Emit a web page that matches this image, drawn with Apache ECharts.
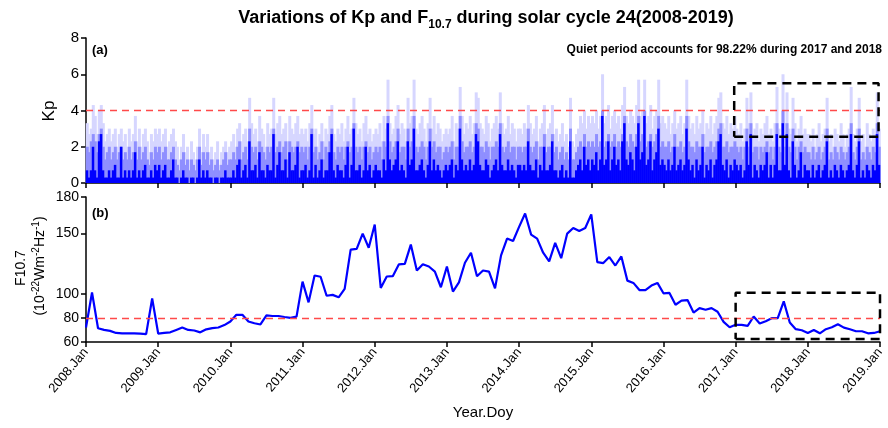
<!DOCTYPE html>
<html>
<head>
<meta charset="utf-8">
<script src="https://cdn.jsdelivr.net/npm/echarts@6/dist/echarts.min.js"></script>
<style>
html, body { margin: 0; padding: 0; background: #fff; }
#main { width: 888px; height: 428px; }
</style>
</head>
<body>
<div id="main"></div>
<script>
// x tick labels, one per year boundary
var xTickLabels = ['2008.Jan', '2009.Jan', '2010.Jan', '2011.Jan', '2012.Jan', '2013.Jan',
	'2014.Jan', '2015.Jan', '2016.Jan', '2017.Jan', '2018.Jan', '2019.Jan'];
var kpTicks = [0, 2, 4, 6, 8];
var f107Ticks = [60, 80, 100, 150, 180];

// Kp, 36 bins per year (about 10 days)
// kpPeak: highest value in the bin, kpUpper: upper part, kpBase: bulk of the values
var binsPerYear = 36;
var kpPeak = [
	3.3, 2.7, 3.0, 4.3, 3.7, 2.7, 4.0, 4.3, 3.3, 2.3, 2.7, 3.0, 2.3, 2.7, 3.0, 2.0, 2.7, 3.0, 2.3, 2.7, 2.0, 3.0, 2.3, 2.7, 3.7, 2.3, 3.0, 2.0, 2.7, 3.0, 2.3, 1.7, 2.7, 2.3, 3.0, 2.7, // 2008
	3.0, 2.3, 2.7, 3.0, 2.0, 2.3, 2.7, 3.0, 2.3, 2.0, 1.3, 2.0, 2.7, 1.7, 2.0, 1.3, 2.3, 1.7, 1.3, 2.0, 3.0, 1.7, 2.7, 2.0, 2.7, 1.7, 2.0, 1.3, 1.7, 2.3, 1.0, 1.7, 2.0, 2.3, 1.7, 2.0, // 2009
	2.3, 2.7, 2.0, 3.0, 3.3, 2.3, 2.7, 3.0, 2.3, 4.7, 3.3, 2.7, 3.0, 2.3, 3.7, 3.0, 2.7, 2.0, 3.3, 2.7, 3.0, 4.7, 2.7, 3.3, 3.7, 2.7, 3.0, 3.3, 2.3, 3.7, 3.0, 2.7, 3.3, 3.7, 2.7, 3.0, // 2010
	2.7, 3.0, 2.3, 3.3, 4.3, 2.7, 3.0, 2.0, 2.7, 3.3, 2.3, 3.0, 2.7, 3.7, 4.3, 2.7, 2.3, 3.0, 2.7, 3.3, 2.3, 3.0, 3.7, 2.7, 3.0, 4.7, 3.3, 2.7, 3.0, 2.3, 3.3, 3.7, 2.7, 3.0, 2.3, 2.7, // 2011
	3.0, 2.7, 3.3, 2.3, 3.7, 3.0, 5.7, 3.3, 2.7, 3.0, 3.7, 4.3, 2.7, 3.3, 3.0, 2.3, 4.7, 3.3, 3.7, 5.7, 3.0, 2.7, 3.3, 3.7, 3.0, 2.3, 3.3, 4.7, 3.0, 3.7, 2.7, 3.3, 3.0, 2.3, 2.7, 3.0, // 2012
	2.7, 3.0, 3.7, 2.3, 3.3, 3.0, 5.3, 3.7, 2.7, 3.3, 3.0, 3.7, 2.7, 3.3, 5.0, 4.7, 3.3, 3.0, 2.7, 3.7, 3.3, 2.3, 3.0, 3.3, 3.7, 3.0, 5.0, 3.3, 2.7, 3.0, 3.7, 2.7, 3.3, 3.0, 2.3, 3.0, // 2013
	3.0, 2.7, 3.3, 3.0, 4.3, 3.3, 2.7, 3.0, 3.7, 2.3, 3.0, 3.3, 4.3, 2.7, 3.0, 3.3, 4.3, 2.7, 3.0, 2.3, 2.7, 3.3, 2.3, 2.7, 2.0, 4.7, 2.3, 2.0, 2.7, 3.0, 3.7, 3.3, 4.0, 3.0, 3.7, 3.3, // 2014
	3.7, 3.3, 4.0, 3.0, 3.7, 6.0, 3.3, 3.7, 4.3, 3.0, 3.7, 4.0, 3.3, 3.7, 3.0, 4.3, 5.3, 3.7, 3.3, 4.0, 3.7, 3.3, 4.3, 5.7, 3.7, 4.0, 5.7, 3.3, 3.7, 4.3, 3.0, 3.7, 4.0, 5.7, 3.3, 3.7, // 2015
	3.3, 3.0, 3.7, 2.7, 3.3, 4.0, 3.0, 3.3, 3.7, 2.7, 3.3, 5.7, 3.7, 3.0, 3.3, 2.7, 3.7, 3.0, 3.3, 4.0, 2.7, 3.3, 3.0, 3.7, 2.7, 3.3, 3.7, 4.7, 5.0, 3.3, 3.0, 3.7, 2.7, 3.3, 3.0, 3.7, // 2016
	3.0, 2.7, 3.3, 2.3, 3.0, 4.7, 3.3, 5.0, 2.7, 3.0, 3.3, 2.3, 3.0, 2.7, 3.3, 3.7, 2.7, 3.0, 2.3, 3.3, 5.3, 3.0, 2.7, 6.0, 3.3, 5.0, 3.0, 2.7, 4.7, 3.3, 2.3, 3.0, 3.7, 2.7, 3.0, 2.7, // 2017
	2.7, 2.3, 3.0, 2.0, 2.7, 3.3, 2.3, 2.7, 3.0, 4.7, 2.3, 2.7, 2.0, 3.0, 2.7, 2.3, 3.3, 2.7, 2.0, 2.7, 3.0, 5.3, 2.7, 2.3, 3.0, 4.7, 2.3, 2.7, 2.0, 3.3, 2.7, 2.3, 3.0, 2.7, 5.0, 3.0  // 2018
];
var kpUpper = [
	2.0, 1.7, 2.3, 2.7, 2.3, 1.7, 2.7, 3.0, 2.0, 1.3, 1.7, 2.0, 1.3, 1.7, 2.0, 1.3, 1.7, 2.0, 1.3, 1.7, 1.3, 2.0, 1.3, 1.7, 2.3, 1.3, 2.0, 1.3, 1.7, 2.0, 1.3, 1.0, 1.7, 1.3, 2.0, 1.7, // 2008
	2.0, 1.3, 1.7, 2.0, 1.3, 1.3, 1.7, 2.0, 1.3, 1.0, 0.7, 1.3, 1.7, 1.0, 1.3, 0.7, 1.3, 1.0, 0.7, 1.3, 2.0, 1.0, 1.7, 1.3, 1.7, 1.0, 1.3, 0.7, 1.0, 1.3, 0.7, 1.0, 1.3, 1.7, 1.0, 1.3, // 2009
	1.3, 1.7, 1.3, 2.0, 2.3, 1.3, 1.7, 2.0, 1.3, 3.0, 2.0, 1.7, 2.0, 1.3, 2.3, 2.0, 1.7, 1.3, 2.0, 1.7, 2.0, 3.0, 1.7, 2.0, 2.3, 1.7, 2.0, 2.3, 1.3, 2.3, 2.0, 1.7, 2.0, 2.3, 1.7, 2.0, // 2010
	1.7, 2.0, 1.3, 2.0, 3.0, 1.7, 2.0, 1.3, 1.7, 2.3, 1.3, 2.0, 1.7, 2.3, 3.0, 1.7, 1.3, 2.0, 1.7, 2.0, 1.3, 2.0, 2.3, 1.7, 2.0, 3.3, 2.0, 1.7, 2.0, 1.3, 2.0, 2.3, 1.7, 2.0, 1.3, 1.7, // 2011
	2.0, 1.7, 2.0, 1.3, 2.3, 2.0, 3.7, 2.3, 1.7, 2.0, 2.3, 3.0, 1.7, 2.0, 2.0, 1.3, 3.0, 2.0, 2.3, 3.7, 2.0, 1.7, 2.0, 2.3, 2.0, 1.3, 2.0, 3.0, 2.0, 2.3, 1.7, 2.0, 2.0, 1.3, 1.7, 2.0, // 2012
	1.7, 2.0, 2.3, 1.3, 2.0, 2.0, 3.7, 2.3, 1.7, 2.0, 2.0, 2.3, 1.7, 2.0, 3.3, 3.0, 2.0, 2.0, 1.7, 2.3, 2.0, 1.3, 2.0, 2.0, 2.3, 2.0, 3.3, 2.0, 1.7, 2.0, 2.3, 1.7, 2.0, 2.0, 1.3, 2.0, // 2013
	2.0, 1.7, 2.0, 2.0, 3.0, 2.0, 1.7, 2.0, 2.3, 1.3, 2.0, 2.0, 2.7, 1.7, 2.0, 2.0, 2.7, 1.7, 2.0, 1.3, 1.7, 2.0, 1.3, 1.7, 1.3, 3.0, 1.3, 1.3, 1.7, 2.0, 2.3, 2.0, 2.7, 2.0, 2.3, 2.0, // 2014
	2.3, 2.0, 2.7, 2.0, 2.3, 4.0, 2.0, 2.3, 2.7, 2.0, 2.3, 2.7, 2.0, 2.3, 2.0, 2.7, 3.7, 2.3, 2.0, 2.7, 2.3, 2.0, 2.7, 3.7, 2.3, 2.7, 4.0, 2.0, 2.3, 2.7, 2.0, 2.3, 2.7, 3.7, 2.0, 2.3, // 2015
	2.0, 2.0, 2.3, 1.7, 2.0, 2.7, 2.0, 2.0, 2.3, 1.7, 2.0, 3.7, 2.3, 2.0, 2.0, 1.7, 2.3, 2.0, 2.0, 2.7, 1.7, 2.0, 2.0, 2.3, 1.7, 2.0, 2.3, 3.0, 3.3, 2.0, 2.0, 2.3, 1.7, 2.0, 2.0, 2.3, // 2016
	2.0, 1.7, 2.0, 1.3, 2.0, 3.0, 2.0, 3.3, 1.7, 2.0, 2.0, 1.3, 2.0, 1.7, 2.0, 2.3, 1.7, 2.0, 1.3, 2.0, 3.3, 2.0, 1.7, 4.0, 2.0, 3.3, 2.0, 1.7, 3.0, 2.0, 1.3, 2.0, 2.3, 1.7, 2.0, 1.7, // 2017
	1.7, 1.3, 2.0, 1.3, 1.7, 2.0, 1.3, 1.7, 2.0, 3.0, 1.3, 1.7, 1.3, 2.0, 1.7, 1.3, 2.0, 1.7, 1.3, 1.7, 2.0, 3.3, 1.7, 1.3, 2.0, 3.0, 1.3, 1.7, 1.3, 2.0, 1.7, 1.3, 2.0, 1.7, 3.3, 2.0  // 2018
];
var kpBase = [
	0.7, 0.3, 0.7, 2.0, 0.7, 0.3, 2.3, 2.7, 0.7, 0.3, 0.3, 0.7, 0.3, 0.7, 1.0, 0.3, 0.3, 2.0, 0.3, 0.7, 0.3, 0.7, 0.3, 0.7, 1.7, 0.3, 0.7, 0.3, 0.7, 1.0, 0.3, 0.3, 0.7, 0.3, 1.0, 0.7, // 2008
	1.0, 0.3, 0.7, 1.0, 0.3, 0.3, 0.7, 1.3, 0.3, 0.3, 0.0, 0.3, 0.7, 0.3, 0.3, 0.0, 0.3, 0.3, 0.0, 0.3, 1.3, 0.3, 0.7, 0.3, 0.7, 0.3, 0.3, 0.0, 0.3, 0.3, 0.0, 0.3, 0.3, 0.7, 0.3, 0.3, // 2009
	0.3, 0.7, 0.3, 1.0, 1.3, 0.3, 0.7, 1.0, 0.3, 2.3, 0.7, 0.7, 1.0, 0.3, 1.7, 0.7, 0.7, 0.3, 1.0, 0.7, 0.7, 2.7, 0.3, 1.0, 1.7, 0.7, 0.7, 1.3, 0.3, 1.7, 0.7, 0.7, 1.0, 2.0, 0.3, 0.7, // 2010
	0.7, 1.0, 0.3, 0.7, 2.7, 0.3, 1.0, 0.3, 0.7, 1.3, 0.3, 0.7, 0.7, 1.7, 2.7, 0.7, 0.3, 1.0, 0.7, 0.7, 0.3, 1.0, 2.0, 0.3, 1.0, 3.0, 0.7, 0.7, 1.0, 0.3, 0.7, 2.0, 0.7, 1.0, 0.3, 0.7, // 2011
	1.0, 0.7, 0.7, 0.3, 1.3, 0.7, 3.3, 1.3, 0.7, 1.0, 1.3, 2.3, 0.7, 1.0, 0.7, 0.3, 2.3, 1.0, 1.3, 3.0, 0.7, 0.7, 1.0, 1.3, 0.7, 0.3, 1.0, 2.3, 0.7, 1.3, 0.7, 1.0, 0.7, 0.3, 0.7, 1.0, // 2012
	0.7, 1.0, 1.3, 0.3, 1.0, 0.7, 3.0, 1.3, 0.7, 1.0, 0.7, 1.3, 0.7, 1.0, 2.7, 2.3, 1.0, 0.7, 0.7, 1.3, 1.0, 0.3, 0.7, 1.0, 1.3, 0.7, 2.7, 1.0, 0.7, 0.7, 1.3, 0.7, 1.0, 0.7, 0.3, 1.0, // 2013
	1.0, 0.7, 1.0, 0.7, 2.3, 1.0, 0.7, 0.7, 1.3, 0.3, 1.0, 0.7, 2.0, 0.7, 0.7, 1.0, 2.3, 0.7, 0.7, 0.3, 0.7, 1.0, 0.3, 0.7, 0.3, 2.3, 0.3, 0.3, 0.7, 1.0, 1.3, 0.7, 2.0, 1.0, 1.3, 0.7, // 2014
	1.3, 1.0, 1.7, 0.7, 1.3, 3.7, 1.0, 1.3, 2.3, 0.7, 1.3, 2.0, 1.0, 1.3, 0.7, 2.3, 3.3, 1.3, 1.0, 1.7, 1.3, 0.7, 2.0, 3.3, 1.3, 1.7, 3.7, 1.0, 1.3, 2.3, 0.7, 1.3, 1.7, 3.0, 1.0, 1.3, // 2015
	1.0, 0.7, 1.3, 0.7, 1.0, 2.0, 0.7, 1.0, 1.3, 0.7, 1.0, 3.0, 1.3, 0.7, 1.0, 0.3, 1.3, 0.7, 1.0, 2.0, 0.3, 1.0, 0.7, 1.3, 0.3, 1.0, 1.3, 2.3, 2.7, 1.0, 0.7, 1.3, 0.3, 1.0, 0.7, 1.3, // 2016
	1.0, 0.7, 1.0, 0.3, 0.7, 2.3, 1.0, 2.7, 0.3, 1.0, 0.7, 0.3, 1.0, 0.7, 1.0, 1.7, 0.3, 1.0, 0.3, 1.0, 2.7, 0.7, 0.7, 3.3, 1.0, 2.7, 0.7, 0.3, 2.3, 1.0, 0.3, 0.7, 1.7, 0.3, 1.0, 0.7, // 2017
	0.7, 0.3, 1.0, 0.3, 0.7, 1.0, 0.3, 0.7, 1.0, 2.3, 0.3, 0.7, 0.3, 1.0, 0.7, 0.3, 1.0, 0.7, 0.3, 0.7, 1.0, 2.7, 0.7, 0.3, 1.0, 2.3, 0.3, 0.7, 0.3, 1.0, 0.7, 0.3, 1.0, 0.7, 2.7, 1.0  // 2018
];

// F10.7 monthly, 2008.Jan .. 2019.Jan
var f107 = [
	72, 101, 71.4, 70, 69.2, 67.5, 67.2, 67.2, 67.2, 67, 66.5, 96,            // 2008
	67, 67.5, 68, 70, 72, 70, 69.5, 68, 70.5, 71.5, 72, 74,                   // 2009
	77, 82.5, 82.5, 77, 75.5, 74.5, 82, 81.5, 81.5, 80.7, 80, 81,             // 2010
	110, 92.8, 115, 114, 98.3, 99, 97, 104, 136.4, 137, 149.7, 138,           // 2011
	157.2, 104.7, 114.2, 114.5, 124.2, 124.7, 140.6, 119.2, 124.4, 122.5, 118.3, 105.3, // 2012
	122.5, 101.7, 109.4, 125.6, 133.9, 114.4, 119.2, 118.3, 104.4, 131.7, 145.6, 143.6, // 2013
	155.3, 166.4, 148.9, 145.6, 133.9, 126.7, 142, 129.4, 149.7, 154.4, 151.9, 154.4,   // 2014
	165.6, 126.1, 125.3, 130.3, 123.3, 130.8, 110.8, 108.9, 103, 103, 106.7, 108.9,     // 2015
	100.3, 100.6, 90.8, 94.2, 94.7, 84.4, 88, 86.7, 88, 85, 76.7, 72.2,       // 2016
	74.2, 74.2, 73.3, 81.1, 75.3, 77.2, 79.7, 79.7, 93.6, 76.1, 70.6, 69.7,   // 2017
	67.5, 70, 67.2, 70.6, 72.2, 74.7, 71.9, 70.6, 68.9, 68.9, 67.2, 67.5,     // 2018
	68.9                                                                      // 2019
];

var kpThreshold = 4;
var f107Threshold = 80;
// dashed boxes: [x0, y0, x1, y1] in axis units
var kpBox = [2016.98, 2.55, 2018.98, 5.5];
var f107Box = [2017, 62.5, 2019, 100.8];

var startYear = 2008;
var endYear = 2019;

function kpSeries(arr) {
	return arr.map(function (v, i) {
		return [startYear + (i + 0.5) / binsPerYear, v];
	});
}

function boxPath(b) {
	return [[b[0], b[1]], [b[2], b[1]], [b[2], b[3]], [b[0], b[3]], [b[0], b[1]]];
}

var f107Data = f107.map(function (v, i) {
	return [startYear + i / 12, v];
});

var baseFont = "'Liberation Sans', Arial, sans-serif";

var chart = echarts.init(document.getElementById('main'), null, { renderer: 'canvas' });

var axisLine = { lineStyle: { color: '#000', width: 1.5 } };
var axisTick = { inside: false, length: 5, lineStyle: { color: '#000', width: 1.5 } };
var redDash = { color: '#ff4a4a', type: [7, 5], width: 1.3 };
var boxStyle = { color: '#000', type: [9, 6], width: 2.5 };

var option = {
	animation: false,
	backgroundColor: '#fff',
	title: {
		text: 'Variations of Kp and F{sub|10.7} during solar cycle 24(2008-2019)',
		left: 481,
		textAlign: 'center',
		top: 0,
		textStyle: {
			fontFamily: baseFont,
			fontWeight: 'bold',
			fontSize: 18,
			color: '#000',
			lineHeight: 26,
			rich: {
				sub: {
					fontFamily: baseFont,
					fontWeight: 'bold',
					fontSize: 12,
					verticalAlign: 'bottom',
					color: '#000'
				}
			}
		}
	},
	grid: [
		{ left: 86, right: 8, top: 38, height: 145 },
		{ left: 86, right: 8, top: 197, height: 145 }
	],
	xAxis: [
		{
			type: 'value', gridIndex: 0, min: startYear, max: endYear, interval: 1,
			axisLine: axisLine, axisTick: axisTick,
			axisLabel: { show: false }, splitLine: { show: false }
		},
		{
			type: 'value', gridIndex: 1, min: startYear, max: endYear, interval: 1,
			axisLine: axisLine, axisTick: axisTick,
			axisLabel: {
				rotate: 50, margin: 8, fontSize: 13, color: '#000', fontFamily: baseFont,
				showMinLabel: true, showMaxLabel: true,
				formatter: function (v) { return xTickLabels[Math.round(v - startYear)]; }
			},
			splitLine: { show: false },
			name: 'Year.Doy', nameLocation: 'middle', nameGap: 63,
			nameTextStyle: { fontSize: 15, color: '#000', fontFamily: baseFont }
		}
	],
	yAxis: [
		{
			type: 'value', gridIndex: 0, min: 0, max: 8, interval: 2,
			axisLine: { show: true, lineStyle: { color: '#000', width: 1.5 } },
			axisTick: { show: true, inside: false, length: 5, lineStyle: { color: '#000', width: 1.5 },
				customValues: kpTicks },
			axisLabel: { fontSize: 15, color: '#000', margin: 7, fontFamily: baseFont,
				customValues: kpTicks },
			splitLine: { show: false }
		},
		{
			type: 'value', gridIndex: 1, min: 60, max: 180, interval: 20,
			axisLine: { show: true, lineStyle: { color: '#000', width: 1.5 } },
			axisTick: { show: true, inside: false, length: 5, lineStyle: { color: '#000', width: 1.5 },
				customValues: f107Ticks },
			axisLabel: { fontSize: 14, color: '#000', margin: 7, fontFamily: baseFont,
				customValues: f107Ticks },
			splitLine: { show: false }
		}
	],
	graphic: [
		{ type: 'text', x: 49, y: 111, rotation: Math.PI / 2,
			style: { text: 'Kp', font: '17px ' + baseFont, fill: '#000', align: 'center', verticalAlign: 'middle' } },
		{ type: 'text', x: 21, y: 268, rotation: Math.PI / 2,
			style: { text: 'F10.7', font: '14px ' + baseFont, fill: '#000', align: 'center', verticalAlign: 'middle' } },
		{ type: 'text', x: 40, y: 266, rotation: Math.PI / 2,
			style: {
				text: '(10{sup|-22}Wm{sup|-2}Hz{sup|-1})',
				fontSize: 14, fontFamily: baseFont, fill: '#000', lineHeight: 18,
				align: 'center', verticalAlign: 'middle',
				rich: { sup: { fontSize: 10, fontFamily: baseFont, verticalAlign: 'top', fill: '#000' } }
			} },
		{ type: 'text', x: 92, y: 50,
			style: { text: '(a)', font: 'bold 13px ' + baseFont, fill: '#000', align: 'left', verticalAlign: 'middle' } },
		{ type: 'text', x: 882, y: 50,
			style: { text: 'Quiet period accounts for 98.22% during 2017 and 2018', font: 'bold 12px ' + baseFont,
				fill: '#000', align: 'right', verticalAlign: 'middle' } },
		{ type: 'text', x: 92, y: 213,
			style: { text: '(b)', font: 'bold 13px ' + baseFont, fill: '#000', align: 'left', verticalAlign: 'middle' } }
	],
	series: [
		{
			name: 'Kp peak', type: 'bar', xAxisIndex: 0, yAxisIndex: 0,
			barWidth: 3, barGap: '-100%',
			itemStyle: { color: '#d6d6ff' },
			data: kpSeries(kpPeak)
		},
		{
			name: 'Kp upper', type: 'bar', xAxisIndex: 0, yAxisIndex: 0,
			barWidth: 3, barGap: '-100%',
			itemStyle: { color: '#8f8fff' },
			data: kpSeries(kpUpper)
		},
		{
			name: 'Kp', type: 'bar', xAxisIndex: 0, yAxisIndex: 0,
			barWidth: 2.5, barGap: '-100%',
			itemStyle: { color: '#0000ff' },
			data: kpSeries(kpBase),
			markLine: {
				silent: true, symbol: 'none', label: { show: false },
				lineStyle: redDash,
				data: [{ yAxis: kpThreshold }]
			}
		},
		{
			name: 'Kp box', type: 'line', xAxisIndex: 0, yAxisIndex: 0,
			symbol: 'none', silent: true, z: 5,
			lineStyle: boxStyle,
			data: boxPath(kpBox)
		},
		{
			name: 'F10.7', type: 'line', xAxisIndex: 1, yAxisIndex: 1,
			showSymbol: false, symbol: 'none',
			lineStyle: { color: '#0000ff', width: 2.2 },
			itemStyle: { color: '#0000ff' },
			data: f107Data,
			markLine: {
				silent: true, symbol: 'none', label: { show: false },
				lineStyle: redDash,
				data: [{ yAxis: f107Threshold }]
			}
		},
		{
			name: 'F10.7 box', type: 'line', xAxisIndex: 1, yAxisIndex: 1,
			symbol: 'none', silent: true, z: 5,
			lineStyle: boxStyle,
			data: boxPath(f107Box)
		}
	]
};

chart.setOption(option);
</script>
</body>
</html>
